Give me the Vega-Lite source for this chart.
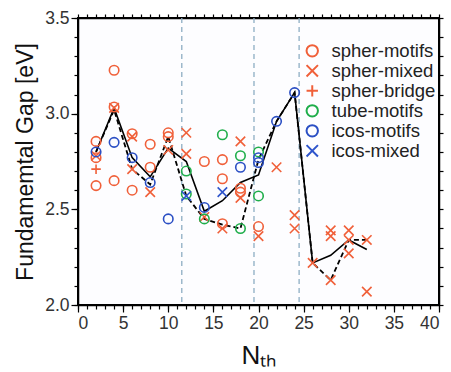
{
  "$schema": "https://vega.github.io/schema/vega-lite/v6.json",
  "width": 361,
  "height": 287,
  "autosize": {"type": "none"},
  "padding": {"left": 78, "top": 18, "right": 12, "bottom": 67},
  "background": "white",
  "config": {
    "view": {"stroke": "black", "strokeWidth": 2, "fill": "#fdfdff"},
    "font": "Liberation Sans",
    "axis": {"domainColor": "black", "tickColor": "black", "labelColor": "#333", "titleColor": "#111", "grid": false, "labelFont": "Liberation Sans", "titleFont": "Liberation Sans", "titleFontWeight": "normal", "domainWidth": 1.5, "tickWidth": 1.2}
  },
  "datasets": {
    "pts": [
      {"N": 2, "gap": 2.855, "series": "spher-motifs"},
      {"N": 2, "gap": 2.77, "series": "spher-motifs"},
      {"N": 2, "gap": 2.624, "series": "spher-motifs"},
      {"N": 4, "gap": 3.227, "series": "spher-motifs"},
      {"N": 4, "gap": 3.035, "series": "spher-motifs"},
      {"N": 4, "gap": 2.65, "series": "spher-motifs"},
      {"N": 6, "gap": 2.895, "series": "spher-motifs"},
      {"N": 6, "gap": 2.6, "series": "spher-motifs"},
      {"N": 8, "gap": 2.84, "series": "spher-motifs"},
      {"N": 8, "gap": 2.72, "series": "spher-motifs"},
      {"N": 10, "gap": 2.9, "series": "spher-motifs"},
      {"N": 10, "gap": 2.88, "series": "spher-motifs"},
      {"N": 14, "gap": 2.75, "series": "spher-motifs"},
      {"N": 16, "gap": 2.76, "series": "spher-motifs"},
      {"N": 16, "gap": 2.66, "series": "spher-motifs"},
      {"N": 16, "gap": 2.425, "series": "spher-motifs"},
      {"N": 18, "gap": 2.61, "series": "spher-motifs"},
      {"N": 18, "gap": 2.59, "series": "spher-motifs"},
      {"N": 20, "gap": 2.41, "series": "spher-motifs"},
      {"N": 2, "gap": 2.78, "series": "spher-mixed"},
      {"N": 4, "gap": 3.03, "series": "spher-mixed"},
      {"N": 6, "gap": 2.88, "series": "spher-mixed"},
      {"N": 6, "gap": 2.71, "series": "spher-mixed"},
      {"N": 8, "gap": 2.59, "series": "spher-mixed"},
      {"N": 10, "gap": 2.81, "series": "spher-mixed"},
      {"N": 12, "gap": 2.9, "series": "spher-mixed"},
      {"N": 12, "gap": 2.79, "series": "spher-mixed"},
      {"N": 14, "gap": 2.46, "series": "spher-mixed"},
      {"N": 16, "gap": 2.4, "series": "spher-mixed"},
      {"N": 18, "gap": 2.855, "series": "spher-mixed"},
      {"N": 18, "gap": 2.56, "series": "spher-mixed"},
      {"N": 20, "gap": 2.36, "series": "spher-mixed"},
      {"N": 22, "gap": 2.72, "series": "spher-mixed"},
      {"N": 24, "gap": 2.47, "series": "spher-mixed"},
      {"N": 24, "gap": 2.4, "series": "spher-mixed"},
      {"N": 26, "gap": 2.22, "series": "spher-mixed"},
      {"N": 28, "gap": 2.39, "series": "spher-mixed"},
      {"N": 28, "gap": 2.36, "series": "spher-mixed"},
      {"N": 28, "gap": 2.13, "series": "spher-mixed"},
      {"N": 30, "gap": 2.39, "series": "spher-mixed"},
      {"N": 30, "gap": 2.34, "series": "spher-mixed"},
      {"N": 30, "gap": 2.27, "series": "spher-mixed"},
      {"N": 32, "gap": 2.34, "series": "spher-mixed"},
      {"N": 32, "gap": 2.07, "series": "spher-mixed"},
      {"N": 2, "gap": 2.71, "series": "spher-bridge"},
      {"N": 12, "gap": 2.7, "series": "tube-motifs"},
      {"N": 12, "gap": 2.58, "series": "tube-motifs"},
      {"N": 14, "gap": 2.45, "series": "tube-motifs"},
      {"N": 16, "gap": 2.89, "series": "tube-motifs"},
      {"N": 18, "gap": 2.78, "series": "tube-motifs"},
      {"N": 18, "gap": 2.4, "series": "tube-motifs"},
      {"N": 20, "gap": 2.8, "series": "tube-motifs"},
      {"N": 20, "gap": 2.57, "series": "tube-motifs"},
      {"N": 2, "gap": 2.8, "series": "icos-motifs"},
      {"N": 4, "gap": 2.85, "series": "icos-motifs"},
      {"N": 6, "gap": 2.77, "series": "icos-motifs"},
      {"N": 8, "gap": 2.64, "series": "icos-motifs"},
      {"N": 10, "gap": 2.45, "series": "icos-motifs"},
      {"N": 14, "gap": 2.51, "series": "icos-motifs"},
      {"N": 18, "gap": 2.72, "series": "icos-motifs"},
      {"N": 20, "gap": 2.77, "series": "icos-motifs"},
      {"N": 20, "gap": 2.745, "series": "icos-motifs"},
      {"N": 22, "gap": 2.96, "series": "icos-motifs"},
      {"N": 24, "gap": 3.11, "series": "icos-motifs"},
      {"N": 12, "gap": 2.57, "series": "icos-mixed"},
      {"N": 16, "gap": 2.59, "series": "icos-mixed"}
    ],
    "lines": [
      {"N": 2, "gap": 2.8, "kind": "solid"},
      {"N": 4, "gap": 3.03, "kind": "solid"},
      {"N": 6, "gap": 2.77, "kind": "solid"},
      {"N": 8, "gap": 2.67, "kind": "solid"},
      {"N": 10, "gap": 2.82, "kind": "solid"},
      {"N": 12, "gap": 2.75, "kind": "solid"},
      {"N": 14, "gap": 2.49, "kind": "solid"},
      {"N": 16, "gap": 2.545, "kind": "solid"},
      {"N": 18, "gap": 2.64, "kind": "solid"},
      {"N": 20, "gap": 2.68, "kind": "solid"},
      {"N": 22, "gap": 2.96, "kind": "solid"},
      {"N": 24, "gap": 3.11, "kind": "solid"},
      {"N": 26, "gap": 2.22, "kind": "solid"},
      {"N": 28, "gap": 2.26, "kind": "solid"},
      {"N": 30, "gap": 2.34, "kind": "solid"},
      {"N": 32, "gap": 2.29, "kind": "solid"},
      {"N": 2, "gap": 2.8, "kind": "dashed"},
      {"N": 4, "gap": 3.02, "kind": "dashed"},
      {"N": 6, "gap": 2.71, "kind": "dashed"},
      {"N": 8, "gap": 2.63, "kind": "dashed"},
      {"N": 10, "gap": 2.88, "kind": "dashed"},
      {"N": 12, "gap": 2.57, "kind": "dashed"},
      {"N": 14, "gap": 2.45, "kind": "dashed"},
      {"N": 16, "gap": 2.42, "kind": "dashed"},
      {"N": 18, "gap": 2.4, "kind": "dashed"},
      {"N": 20, "gap": 2.76, "kind": "dashed"},
      {"N": 22, "gap": 2.96, "kind": "dashed"},
      {"N": 24, "gap": 3.11, "kind": "dashed"},
      {"N": 26, "gap": 2.22, "kind": "dashed"},
      {"N": 28, "gap": 2.13, "kind": "dashed"},
      {"N": 30, "gap": 2.34, "kind": "dashed"},
      {"N": 32, "gap": 2.34, "kind": "dashed"}
    ],
    "vlines": [{"N": 11.5}, {"N": 19.5}, {"N": 24.5}]
  },
  "layer": [
    {
      "data": {"name": "vlines"},
      "mark": {"type": "rule", "color": "#8eaec4", "strokeDash": [5, 4], "strokeWidth": 1.3},
      "encoding": {
        "x": {"field": "N", "type": "quantitative", "scale": {"domain": [0, 40], "nice": false},
          "axis": {"orient": "bottom", "values": [0, 5, 10, 15, 20, 25, 30, 35, 40], "tickSize": 7, "labelFontSize": 17.5, "labelPadding": 2, "title": "Nₜₕ", "titleFontSize": 26, "titlePadding": 11}}
      }
    },
    {
      "data": {"name": "lines"},
      "transform": [{"filter": "datum.kind === 'solid'"}],
      "mark": {"type": "line", "color": "black", "strokeWidth": 1.6},
      "encoding": {
        "x": {"field": "N", "type": "quantitative", "scale": {"domain": [0, 40], "nice": false},
          "axis": {"orient": "bottom", "values": [0,1,2,3,4,5,6,7,8,9,10,11,12,13,14,15,16,17,18,19,20,21,22,23,24,25,26,27,28,29,30,31,32,33,34,35,36,37,38,39,40], "tickSize": 4, "labels": false, "domain": false, "title": null}},
        "y": {"field": "gap", "type": "quantitative", "scale": {"domain": [2.0, 3.5], "nice": false, "zero": false},
          "axis": {"orient": "left", "values": [2.0, 2.5, 3.0, 3.5], "format": ".1f", "tickSize": 7, "labelFontSize": 17.5, "labelPadding": 2, "title": "Fundamemtal Gap [eV]", "titleFontSize": 23, "titlePadding": 7}}
      }
    },
    {
      "data": {"name": "lines"},
      "transform": [{"filter": "datum.kind === 'dashed'"}],
      "mark": {"type": "line", "color": "black", "strokeWidth": 1.8, "strokeDash": [5, 3]},
      "encoding": {
        "x": {"field": "N", "type": "quantitative", "scale": {"domain": [0, 40], "nice": false},
          "axis": {"orient": "top", "values": [0,1,2,3,4,5,6,7,8,9,10,11,12,13,14,15,16,17,18,19,20,21,22,23,24,25,26,27,28,29,30,31,32,33,34,35,36,37,38,39,40], "tickSize": 4, "labels": false, "title": null}},
        "y": {"field": "gap", "type": "quantitative", "scale": {"domain": [2.0, 3.5], "nice": false, "zero": false},
          "axis": {"orient": "left", "values": [2.0,2.1,2.2,2.3,2.4,2.5,2.6,2.7,2.8,2.9,3.0,3.1,3.2,3.3,3.4,3.5], "tickSize": 4, "labels": false, "domain": false, "title": null}}
      }
    },
    {
      "data": {"name": "pts"},
      "mark": {"type": "point", "filled": false, "strokeWidth": 1.6, "size": 90, "opacity": 1},
      "encoding": {
        "x": {"field": "N", "type": "quantitative", "scale": {"domain": [0, 40], "nice": false}, "axis": null},
        "y": {"field": "gap", "type": "quantitative", "scale": {"domain": [2.0, 3.5], "nice": false, "zero": false},
          "axis": {"orient": "right", "values": [2.0,2.1,2.2,2.3,2.4,2.5,2.6,2.7,2.8,2.9,3.0,3.1,3.2,3.3,3.4,3.5], "tickSize": 4, "labels": false, "title": null}},
        "color": {"field": "series", "type": "nominal",
          "scale": {"domain": ["spher-motifs", "spher-mixed", "spher-bridge", "tube-motifs", "icos-motifs", "icos-mixed"], "range": ["#f0603a", "#f0603a", "#f0603a", "#1fae4b", "#2b4fc4", "#2f55cc"]},
          "legend": {"title": null, "orient": "none", "legendX": 225, "legendY": 24, "labelFontSize": 18.5, "labelColor": "#222", "rowPadding": 0, "clipHeight": 17.7, "symbolSize": 130, "symbolStrokeWidth": 2, "labelOffset": 10}},
        "shape": {"field": "series", "type": "nominal",
          "scale": {"domain": ["spher-motifs", "spher-mixed", "spher-bridge", "tube-motifs", "icos-motifs", "icos-mixed"], "range": ["circle", "M-1,-1L1,1M1,-1L-1,1", "M-1,0L1,0M0,-1L0,1", "circle", "circle", "M-1,-1L1,1M1,-1L-1,1"]}}
      }
    }
  ],
  "resolve": {"axis": {"x": "independent", "y": "independent"}}
}
